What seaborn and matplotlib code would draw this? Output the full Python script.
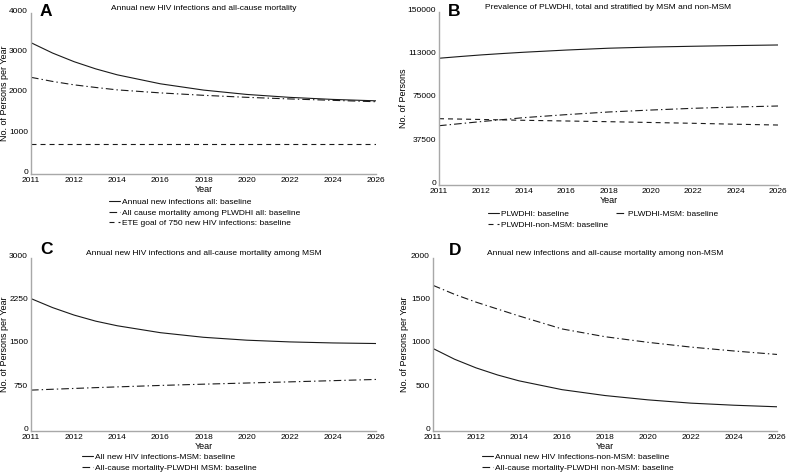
import numpy as np
import pandas as pd
import matplotlib
matplotlib.use("Agg")
import matplotlib.pyplot as plt
import seaborn as sns

sns.set_style("white")
plt.rcParams['font.family'] = ['Liberation Sans', 'DejaVu Sans']
plt.rcParams['lines.scale_dashes'] = False
plt.rcParams['text.color'] = 'black'
plt.rcParams['axes.labelcolor'] = 'black'
plt.rcParams['xtick.color'] = 'black'
plt.rcParams['ytick.color'] = 'black'

# x positions (tick index units) and tick labels
pos = [0, 0.5, 1, 1.5, 2, 3, 4, 5, 6, 7, 8]
tick_pos = [0, 1, 2, 3, 4, 5, 6, 7, 8]
tick_labels = ["2011", "2012", "2014", "2016", "2018", "2020", "2022", "2024", "2026"]

# Panel A
a_new_inf = [3262, 3005, 2790, 2612, 2464, 2241, 2085, 1977, 1904, 1853, 1818]
a_mort = [2402, 2300, 2215, 2150, 2090, 2015, 1955, 1905, 1865, 1830, 1796]
a_ete = [750, 750, 750, 750, 750, 750, 750, 750, 750, 750, 750]

# Panel B
b_total = [109900, 111400, 112800, 114000, 115100, 117000, 118600, 119600, 120300, 120900, 121400]
b_msm = [51400, 53200, 55000, 56700, 58400, 61000, 63300, 65000, 66500, 67600, 68500]
b_nonmsm = [57500, 57150, 56800, 56450, 56100, 55500, 54900, 54200, 53500, 52700, 52000]

# Panel C
c_new_inf = [2296, 2140, 2010, 1905, 1825, 1705, 1625, 1575, 1545, 1527, 1517]
c_mort = [709, 724, 738, 752, 765, 790, 812, 832, 852, 873, 894]

# Panel D
d_new_inf = [954, 830, 730, 648, 580, 478, 410, 360, 322, 298, 280]
d_mort = [1684, 1580, 1490, 1410, 1330, 1180, 1090, 1025, 970, 925, 885]

SOLID = '-'
DASHDOT = (0, (5.5, 2.2, 1.0, 2.2))
DASHED = (0, (3.6, 2.9))
LINE_C = '#1a1a1a'

W, H = 787, 475
fig = plt.figure(figsize=(W / 100, H / 100), dpi=100)


def px_axes(left, top, right, bottom):
    return fig.add_axes([left / W, 1 - bottom / H, (right - left) / W, (bottom - top) / H])


def style_axes(ax, ymax, yticks, ylabel, title, ylab_x):
    ax.set_xlim(0, 8)
    ax.set_ylim(0, ymax)
    ax.set_xticks(tick_pos)
    ax.set_xticklabels(tick_labels)
    ax.set_yticks(yticks)
    ax.set_yticklabels([str(t) for t in yticks])
    ax.tick_params(length=0, labelsize=6.0, pad=2.2)
    for t in ax.get_yticklabels():
        t.set_va('baseline')
    for s in ['top', 'right']:
        ax.spines[s].set_visible(False)
    for s in ['left', 'bottom']:
        ax.spines[s].set_color('#a8a8a8')
        ax.spines[s].set_linewidth(1.0)
    ax.set_xlabel("Year", fontsize=6.5, labelpad=1)
    ax.set_ylabel(ylabel, fontsize=6.5)
    bb = ax.get_position()
    # label anchor is its right edge
    ax.yaxis.set_label_coords((ylab_x / W - bb.x0) / bb.width, 0.5)
    ax.set_title(title, fontsize=6.0, pad=2)


def draw(ax, series):
    for vals, ls, lab in series:
        df = pd.DataFrame({"pos": pos, "value": vals})
        sns.lineplot(data=df, x="pos", y="value", ax=ax, color=LINE_C,
                     linewidth=0.8, linestyle=ls, label=lab)


def add_legend(ax, x, y, ncol=1):
    h, l = ax.get_legend_handles_labels()
    ax.legend(h, l, loc='upper left', bbox_to_anchor=(x / W, 1 - y / H),
              bbox_transform=fig.transFigure, frameon=False, fontsize=6.0,
              ncol=ncol, handlelength=1.3, handletextpad=0.25,
              borderpad=0, borderaxespad=0, labelspacing=0.35,
              columnspacing=0.9)


# A
axA = px_axes(31, 13, 376, 174)
draw(axA, [(a_new_inf, SOLID, "Annual new infections all: baseline"),
           (a_mort, DASHDOT, "All cause mortality among PLWDHI all: baseline"),
           (a_ete, DASHED, "ETE goal of 750 new HIV infections: baseline")])
style_axes(axA, 4000, [0, 1000, 2000, 3000, 4000], "No. of Persons per Year",
           "Annual new HIV infections and all-cause mortality", 8.5)
add_legend(axA, 109, 198)

# B
axB = px_axes(439, 12, 778, 185)
draw(axB, [(b_total, SOLID, "PLWDHI: baseline"),
           (b_nonmsm, DASHED, "PLWDHI-non-MSM: baseline"),
           (b_msm, DASHDOT, "PLWDHI-MSM: baseline")])
style_axes(axB, 150000, [0, 37500, 75000, 113000, 150000], "No. of Persons",
           "Prevalence of PLWDHI, total and stratified by MSM and non-MSM", 408)
add_legend(axB, 488, 210, ncol=2)

# C
axC = px_axes(31, 258, 376, 431)
draw(axC, [(c_new_inf, SOLID, "All new HIV infections-MSM: baseline"),
           (c_mort, DASHDOT, "All-cause mortality-PLWDHI MSM: baseline")])
style_axes(axC, 3000, [0, 750, 1500, 2250, 3000], "No. of Persons per Year",
           "Annual new HIV infections and all-cause mortality among MSM", 8.5)
add_legend(axC, 82, 453)

# D
axD = px_axes(433, 258, 777, 431)
draw(axD, [(d_new_inf, SOLID, "Annual new HIV Infections-non-MSM: baseline"),
           (d_mort, DASHDOT, "All-cause mortality-PLWDHI non-MSM: baseline")])
style_axes(axD, 2000, [0, 500, 1000, 1500, 2000], "No. of Persons per Year",
           "Annual new infections and all-cause mortality among non-MSM", 409)
add_legend(axD, 482, 453)

# panel letters
for letter, x, y in [("A", 40, 11), ("B", 448, 11), ("C", 40, 249), ("D", 449, 251)]:
    fig.text(x / W, 1 - y / H, letter, fontsize=12.5, fontweight='bold',
             ha='left', va='center')

fig.savefig("out.png", dpi=100)
